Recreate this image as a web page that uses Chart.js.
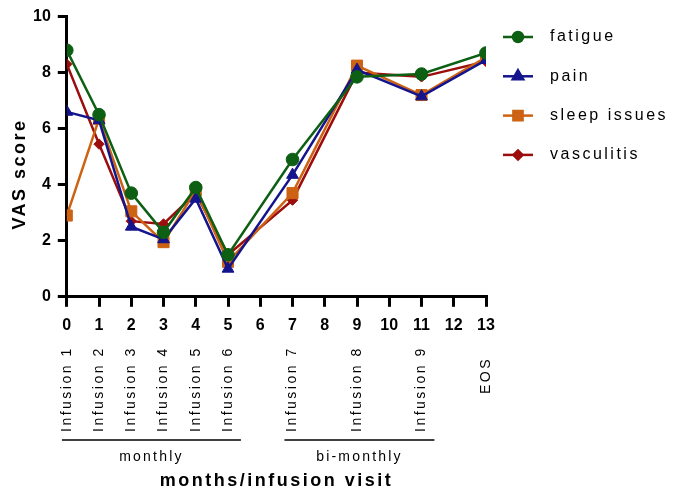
<!DOCTYPE html>
<html>
<head>
<meta charset="utf-8">
<script src="https://cdn.jsdelivr.net/npm/chart.js@4/dist/chart.umd.min.js"></script>
<style>
  body { margin: 0; background: #fff; }
  #wrap { width: 673px; height: 491px; }
</style>
</head>
<body>
<div id="wrap"><canvas id="vasChart"></canvas></div>
<script>
// months of each visit
const months = [0, 1, 2, 3, 4, 5, 7, 9, 11, 13];
const visitLabels = ['Infusion 1', 'Infusion 2', 'Infusion 3', 'Infusion 4', 'Infusion 5',
  'Infusion 6', 'Infusion 7', 'Infusion 8', 'Infusion 9', 'EOS'];

const fatigue = [8.8, 6.5, 3.7, 2.3, 3.9, 1.5, 4.9, 7.85, 7.95, 8.7];
const pain = [6.6, 6.3, 2.5, 2.05, 3.5, 1.0, 4.35, 8.1, 7.15, 8.45];
const sleepIssues = [2.9, 6.35, 3.05, 1.95, 3.8, 1.25, 3.7, 8.25, 7.2, 8.55];
const vasculitis = [8.3, 5.45, 2.7, 2.6, 3.7, 1.5, 3.45, 8.0, 7.85, 8.4];

// visit groups (from month, to month)
const groups = [
  { label: 'monthly', from: -0.15, to: 5.4 },
  { label: 'bi-monthly', from: 6.75, to: 11.4 }
];

const font = '"Liberation Sans", Arial, sans-serif';

function points(values) {
  return months.map((m, i) => ({ x: m, y: values[i] }))
}

function series(label, values, color, style, radius, legendRadius) {
  return {
    label,
    data: points(values),
    borderColor: color,
    backgroundColor: color,
    borderWidth: 2.5,
    pointStyle: style,
    pointRadius: radius,
    pointHoverRadius: radius,
    pointBorderWidth: 1,
    legendRadius,
    tension: 0
  }
}

const datasets = [
  series('fatigue', fatigue, '#0d5f14', 'circle', 6.3, 5),
  series('pain', pain, '#14148c', 'triangle', 6.8, 6),
  series('sleep issues', sleepIssues, '#cc6212', 'rect', 7.8, 6.5),
  series('vasculitis', vasculitis, '#9c0d0d', 'rectRot', 5.2, 4.5)
];

function spacedText(ctx, text, x, y, spacing) {
  ctx.letterSpacing = spacing + 'px';
  ctx.fillText(text, x, y);
  ctx.letterSpacing = '0px';
}

const extras = {
  id: 'extras',
  afterDraw(chart) {
    const ctx = chart.ctx;
    const xs = chart.scales.x;
    const area = chart.chartArea;
    ctx.save();
    ctx.fillStyle = '#000';
    ctx.strokeStyle = '#000';

    // rotated visit labels
    ctx.font = '14px ' + font;
    ctx.textBaseline = 'middle';
    months.forEach((m, i) => {
      const eos = visitLabels[i] === 'EOS';
      ctx.save();
      ctx.translate(xs.getPixelForValue(m), eos ? 357 : 432);
      ctx.rotate(-Math.PI / 2);
      ctx.textAlign = eos ? 'right' : 'left';
      spacedText(ctx, visitLabels[i], 0, 0, 2.5);
      ctx.restore();
    });

    // group brackets
    ctx.lineWidth = 1.5;
    ctx.font = '14px ' + font;
    ctx.textAlign = 'center';
    groups.forEach(g => {
      const x1 = xs.getPixelForValue(g.from);
      const x2 = xs.getPixelForValue(g.to);
      ctx.beginPath();
      ctx.moveTo(x1, 440);
      ctx.lineTo(x2, 440);
      ctx.stroke();
      spacedText(ctx, g.label, (x1 + x2) / 2, 457, 2.2);
    });

    // x title
    ctx.font = 'bold 18px ' + font;
    spacedText(ctx, 'months/infusion visit', (area.left + area.right) / 2, 481, 2.5);

    // y title
    ctx.save();
    ctx.translate(20, 174);
    ctx.rotate(-Math.PI / 2);
    spacedText(ctx, 'VAS score', 0, 0, 2.5);
    ctx.restore();

    // legend
    ctx.textAlign = 'left';
    ctx.font = '16px ' + font;
    chart.data.datasets.forEach((ds, i) => {
      const y = 37 + i * 39.3;
      ctx.strokeStyle = ds.borderColor;
      ctx.fillStyle = ds.backgroundColor;
      ctx.lineWidth = 2.5;
      ctx.beginPath();
      ctx.moveTo(503, y);
      ctx.lineTo(533, y);
      ctx.stroke();
      Chart.helpers.drawPoint(ctx, { pointStyle: ds.pointStyle, radius: ds.legendRadius, borderWidth: 1 }, 518, y);
      ctx.fillStyle = '#000';
      spacedText(ctx, ds.label, 550, y, 2.5);
    });
    ctx.restore();
  }
};

new Chart(document.getElementById('vasChart'), {
  type: 'line',
  data: { datasets },
  options: {
    responsive: true,
    maintainAspectRatio: false,
    animation: false,
    layout: {
      padding: { left: 26, right: 187, top: 14, bottom: 147 }
    },
    plugins: {
      legend: { display: false },
      tooltip: { enabled: false }
    },
    scales: {
      x: {
        type: 'linear',
        min: 0,
        max: 13,
        border: { color: '#000', width: 3 },
        grid: { drawOnChartArea: false, drawTicks: true, tickLength: 10, color: '#000', lineWidth: 3 },
        ticks: {
          stepSize: 1,
          autoSkip: false,
          maxRotation: 0,
          padding: 9,
          color: '#000',
          font: { family: font, size: 16, weight: 'bold' }
        }
      },
      y: {
        min: 0,
        max: 10,
        border: { color: '#000', width: 3 },
        grid: { drawOnChartArea: false, drawTicks: true, tickLength: 9, color: '#000', lineWidth: 3 },
        ticks: {
          stepSize: 2,
          padding: 7,
          color: '#000',
          font: { family: font, size: 16, weight: 'bold' }
        }
      }
    }
  },
  plugins: [extras]
})
</script>
</body>
</html>
